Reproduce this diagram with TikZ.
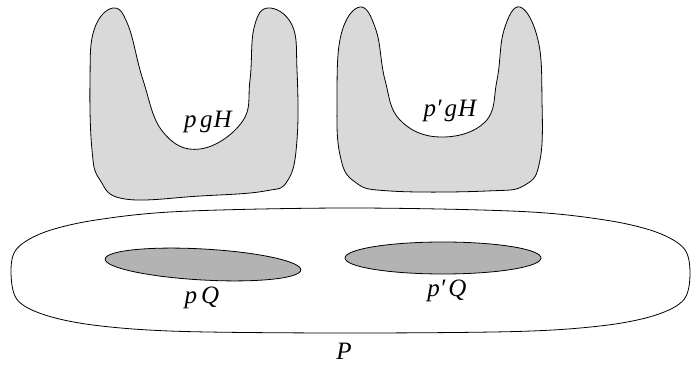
\documentclass[tikz,border=0pt]{standalone}
\usepackage{fontspec}
\setmainfont{Liberation Serif}
\newfontfamily\labfont{Liberation Serif}
\usepackage{tikz}

\definecolor{lightblob}{RGB}{217,217,217}
\definecolor{darkblob}{RGB}{179,179,179}

\begin{document}
\begin{tikzpicture}[
		x=1pt, y=-1pt,
		line width=0.8pt,
		blob/.style={draw, fill=lightblob},
		coset/.style={draw, fill=darkblob},
		lab/.style={inner sep=0pt, font=\labfont\fontsize{25}{28}\selectfont\itshape}
		]
		
		\useasboundingbox (0,0) rectangle (691,366);
		
		% the big set P
		\draw plot[smooth cycle, tension=0.55] coordinates {
			(11,271) (17,248.5) (45,232) (96,220) (181,211.4) (350,208)
			(520,211.4) (605,220) (656,232) (684,248.5) (690,273)
			(684,299.5) (656,315) (605,325.4) (520,331.4) (350,333)
			(181,331.4) (96,325.4) (45,315) (17,299.5)};
		
		% left U shape
		\draw[blob] plot[smooth cycle, tension=0.7] coordinates {
			(113,8) (94,30) (90,80) (92,150) (100,180) (125,199)
			(200,196) (265,191) (288,180) (297,140) (297,70) (292,25)
			(268,8) (254,28) (250,80) (242,122) (200,149) (163,132)
			(143,80) (128,25)};
		
		% right U shape
		\draw[blob] plot[smooth cycle, tension=0.7] coordinates {
			(360,7) (341,35) (337,100) (340,155) (355,182) (390,191)
			(487,191) (525,185) (540,160) (542,100) (538,40) (520,7)
			(504,30) (497,80) (485,122) (440,137) (400,120) (385,80)
			(376,30)};
		
		% the two small sets
		\draw[coset] (203,264.5) ellipse[x radius=98, y radius=15.5, rotate=-3.2];
		\draw[coset] (443,258) ellipse[x radius=98, y radius=16];
		
		\node[lab] (pgH)   at (208,122) {p\kern3.5pt g\kern1pt H};
		\node[lab] (ppgH)  at (450,111) {p′\kern3pt g\kern1pt H};
		\node[lab] (pQ)    at (202,298) {p\kern4pt Q};
		\node[lab] (ppQ)   at (447,291) {p′\kern3pt Q};
		\node[lab] (bigP)  at (344,351) {P};
		
	\end{tikzpicture}
\end{document}
